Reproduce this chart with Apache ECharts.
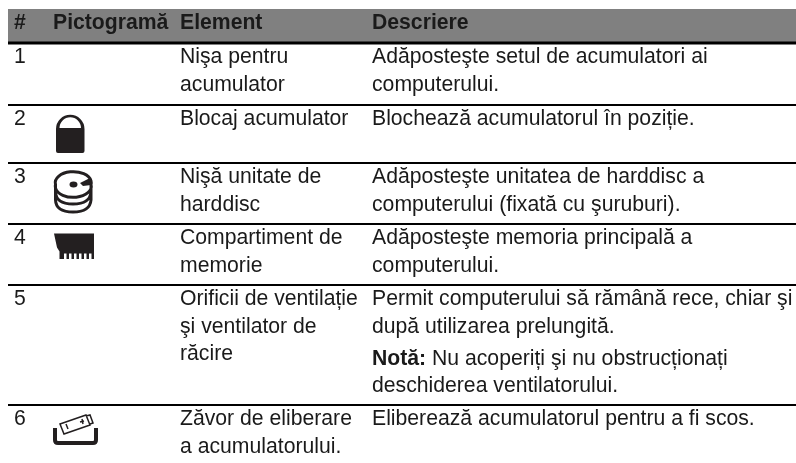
<!DOCTYPE html>
<html>
<head>
<meta charset="utf-8">
<style>
  html, body { margin: 0; padding: 0; background: #fff; }
  #chart { width: 796px; height: 463px; }
</style>
</head>
<body>
<div id="chart"></div>
<script src="https://cdn.jsdelivr.net/npm/echarts@6/dist/echarts.min.js"></script>
<script>
const headers = ['#', 'Pictogramă', 'Element', 'Descriere'];
const rowNumbers = ['1', '2', '3', '4', '5', '6'];
const elementLines = [
  ['Nişa pentru', 'acumulator'],
  ['Blocaj acumulator'],
  ['Nişă unitate de', 'harddisc'],
  ['Compartiment de', 'memorie'],
  ['Orificii de ventilație', 'şi ventilator de', 'răcire'],
  ['Zăvor de eliberare', 'a acumulatorului.']
];
const descriptionLines = [
  ['Adăposteşte setul de acumulatori ai', 'computerului.'],
  ['Blochează acumulatorul în poziție.'],
  ['Adăposteşte unitatea de harddisc a', 'computerului (fixată cu şuruburi).'],
  ['Adăposteşte memoria principală a', 'computerului.'],
  ['Permit computerului să rămână rece, chiar şi', 'după utilizarea prelungită.', '{b|Notă:} Nu acoperiți şi nu obstrucționați', 'deschiderea ventilatorului.'],
  ['Eliberează acumulatorul pentru a fi scos.']
];

// table layout, in page pixels
const columnX = [14, 53, 180, 372];
const tableLeft = 8;
const tableRight = 796;
const headerTop = 9;
const headerBottom = 42;
const headerTextY = 23;
const ruleY = [43, 105, 163, 224, 285, 405];
const firstLineOffset = 14.5;
const lineHeight = 27.2;
const noteGap = 5;
const fontSize = 21.2;
const textColor = '#1a1a1a';
const iconColor = '#231f20';

// icons, drawn in page pixels around the origin given here
const icons = [
  { x: 56, y: 114, fill: 'M0 15 A14.25 14.25 0 0 1 28.5 15 L28.5 37 Q28.5 39 26.5 39 L2 39 Q0 39 0 37 Z M3.5 14 L25 14 A10.75 10.75 0 0 0 3.5 14 Z' },
  { x: 54, y: 172, stroke: 'M1.5 12.5 A18 11 0 1 1 37 12.5 A18 11 0 1 1 1.5 12.5 Z M1.5 12.5 L1.5 28 Q2 40 19 40 Q36 40 37 28 L37 12.5 M1.5 20 Q2 32 19 32 Q36 32 37 20', fill: 'M15.5 12.5 A4 3 0 1 1 23.5 12.5 A4 3 0 1 1 15.5 12.5 Z M26 11 L36 6 L37 13 L29 14 Z' },
  { x: 54, y: 233.5, fill: 'M0 0 L40 0 L40 25.5 L37.5 25.5 L37.5 20 L35 20 L35 25.5 L32.5 25.5 L32.5 20 L30 20 L30 25.5 L27.5 25.5 L27.5 20 L25 20 L25 25.5 L22.5 25.5 L22.5 20 L20 20 L20 25.5 L17.5 25.5 L17.5 20 L15 20 L15 25.5 L12.5 25.5 L12.5 20 L10 20 L10 25.5 L5.5 25.5 L5.5 18 L3 14 Z' },
  { x: 53, y: 414, stroke: 'M2 14 L2 26 Q2 29 5 29 L40 29 Q43 29 43 26 L43 14', strokeWidth: 4, thin: 'M7 10 L33 1 L37 11 L11 20 Z M33 2 L37 1 L40 9 L37 10 M13 10 L15 15 M27 8 L31 7 M29 5 L30 10' }
];

const chart = echarts.init(document.getElementById('chart'), null, { renderer: 'canvas' });

const bandData = [[tableLeft, headerTop, tableRight, headerBottom]];
const ruleData = ruleY.map((y, i) => [tableLeft, y, tableRight, i === 0 ? 3 : 2]);

const textData = [];
headers.forEach((t, c) => textData.push([columnX[c], headerTextY, t, 1]));
rowNumbers.forEach((t, r) => {
  const top = ruleY[r] + firstLineOffset;
  textData.push([columnX[0], top, t, 0]);
  elementLines[r].forEach((line, i) => textData.push([columnX[2], top + i * lineHeight, line, 0]));
  descriptionLines[r].forEach((line, i) => {
    const gap = i >= 2 ? noteGap : 0;
    textData.push([columnX[3], top + i * lineHeight + gap, line, 0]);
  });
});

function renderBand(params, api) {
  const a = api.coord([api.value(0), api.value(1)]);
  const b = api.coord([api.value(2), api.value(3)]);
  return { type: 'rect', shape: { x: a[0], y: a[1], width: b[0] - a[0], height: b[1] - a[1] }, style: { fill: '#808080' } };
}

function renderRule(params, api) {
  const a = api.coord([api.value(0), api.value(1)]);
  const b = api.coord([api.value(2), api.value(1)]);
  const h = api.value(3);
  return { type: 'rect', shape: { x: a[0], y: a[1] - h / 2, width: b[0] - a[0], height: h }, style: { fill: '#000' } };
}

function renderText(params, api) {
  const p = api.coord([api.value(0), api.value(1)]);
  const item = textData[params.dataIndex];
  return {
    type: 'text',
    x: p[0],
    y: p[1],
    style: {
      text: item[2],
      fill: textColor,
      font: (item[3] ? 'bold ' : '') + fontSize + 'px "Liberation Sans", Arial, sans-serif',
      verticalAlign: 'middle',
      align: 'left',
      rich: { b: { font: 'bold ' + fontSize + 'px "Liberation Sans", Arial, sans-serif', fill: textColor } }
    }
  };
}

function renderIcon(params, api) {
  const icon = icons[params.dataIndex];
  const p = api.coord([api.value(0), api.value(1)]);
  const children = [];
  if (icon.fill) {
    children.push({ type: 'path', shape: { pathData: icon.fill }, style: { fill: iconColor } });
  }
  if (icon.stroke) {
    children.push({ type: 'path', shape: { pathData: icon.stroke }, style: { fill: 'none', stroke: iconColor, lineWidth: icon.strokeWidth || 3 } });
  }
  if (icon.thin) {
    children.push({ type: 'path', shape: { pathData: icon.thin }, style: { fill: 'none', stroke: iconColor, lineWidth: 1.5 } });
  }
  return { type: 'group', x: p[0], y: p[1], children };
}

chart.setOption({
  animation: false,
  grid: { left: 0, right: 0, top: 0, bottom: 0 },
  xAxis: { type: 'value', min: 0, max: 796, show: false },
  yAxis: { type: 'value', min: 0, max: 463, inverse: true, show: false },
  series: [
    { type: 'custom', coordinateSystem: 'cartesian2d', silent: true, clip: false, renderItem: renderBand, data: bandData },
    { type: 'custom', coordinateSystem: 'cartesian2d', silent: true, clip: false, renderItem: renderRule, data: ruleData },
    { type: 'custom', coordinateSystem: 'cartesian2d', silent: true, clip: false, renderItem: renderIcon, data: icons.map(i => [i.x, i.y]) },
    { type: 'custom', coordinateSystem: 'cartesian2d', silent: true, clip: false, renderItem: renderText, data: textData.map(t => [t[0], t[1]]) }
  ]
});
</script>
</body>
</html>
